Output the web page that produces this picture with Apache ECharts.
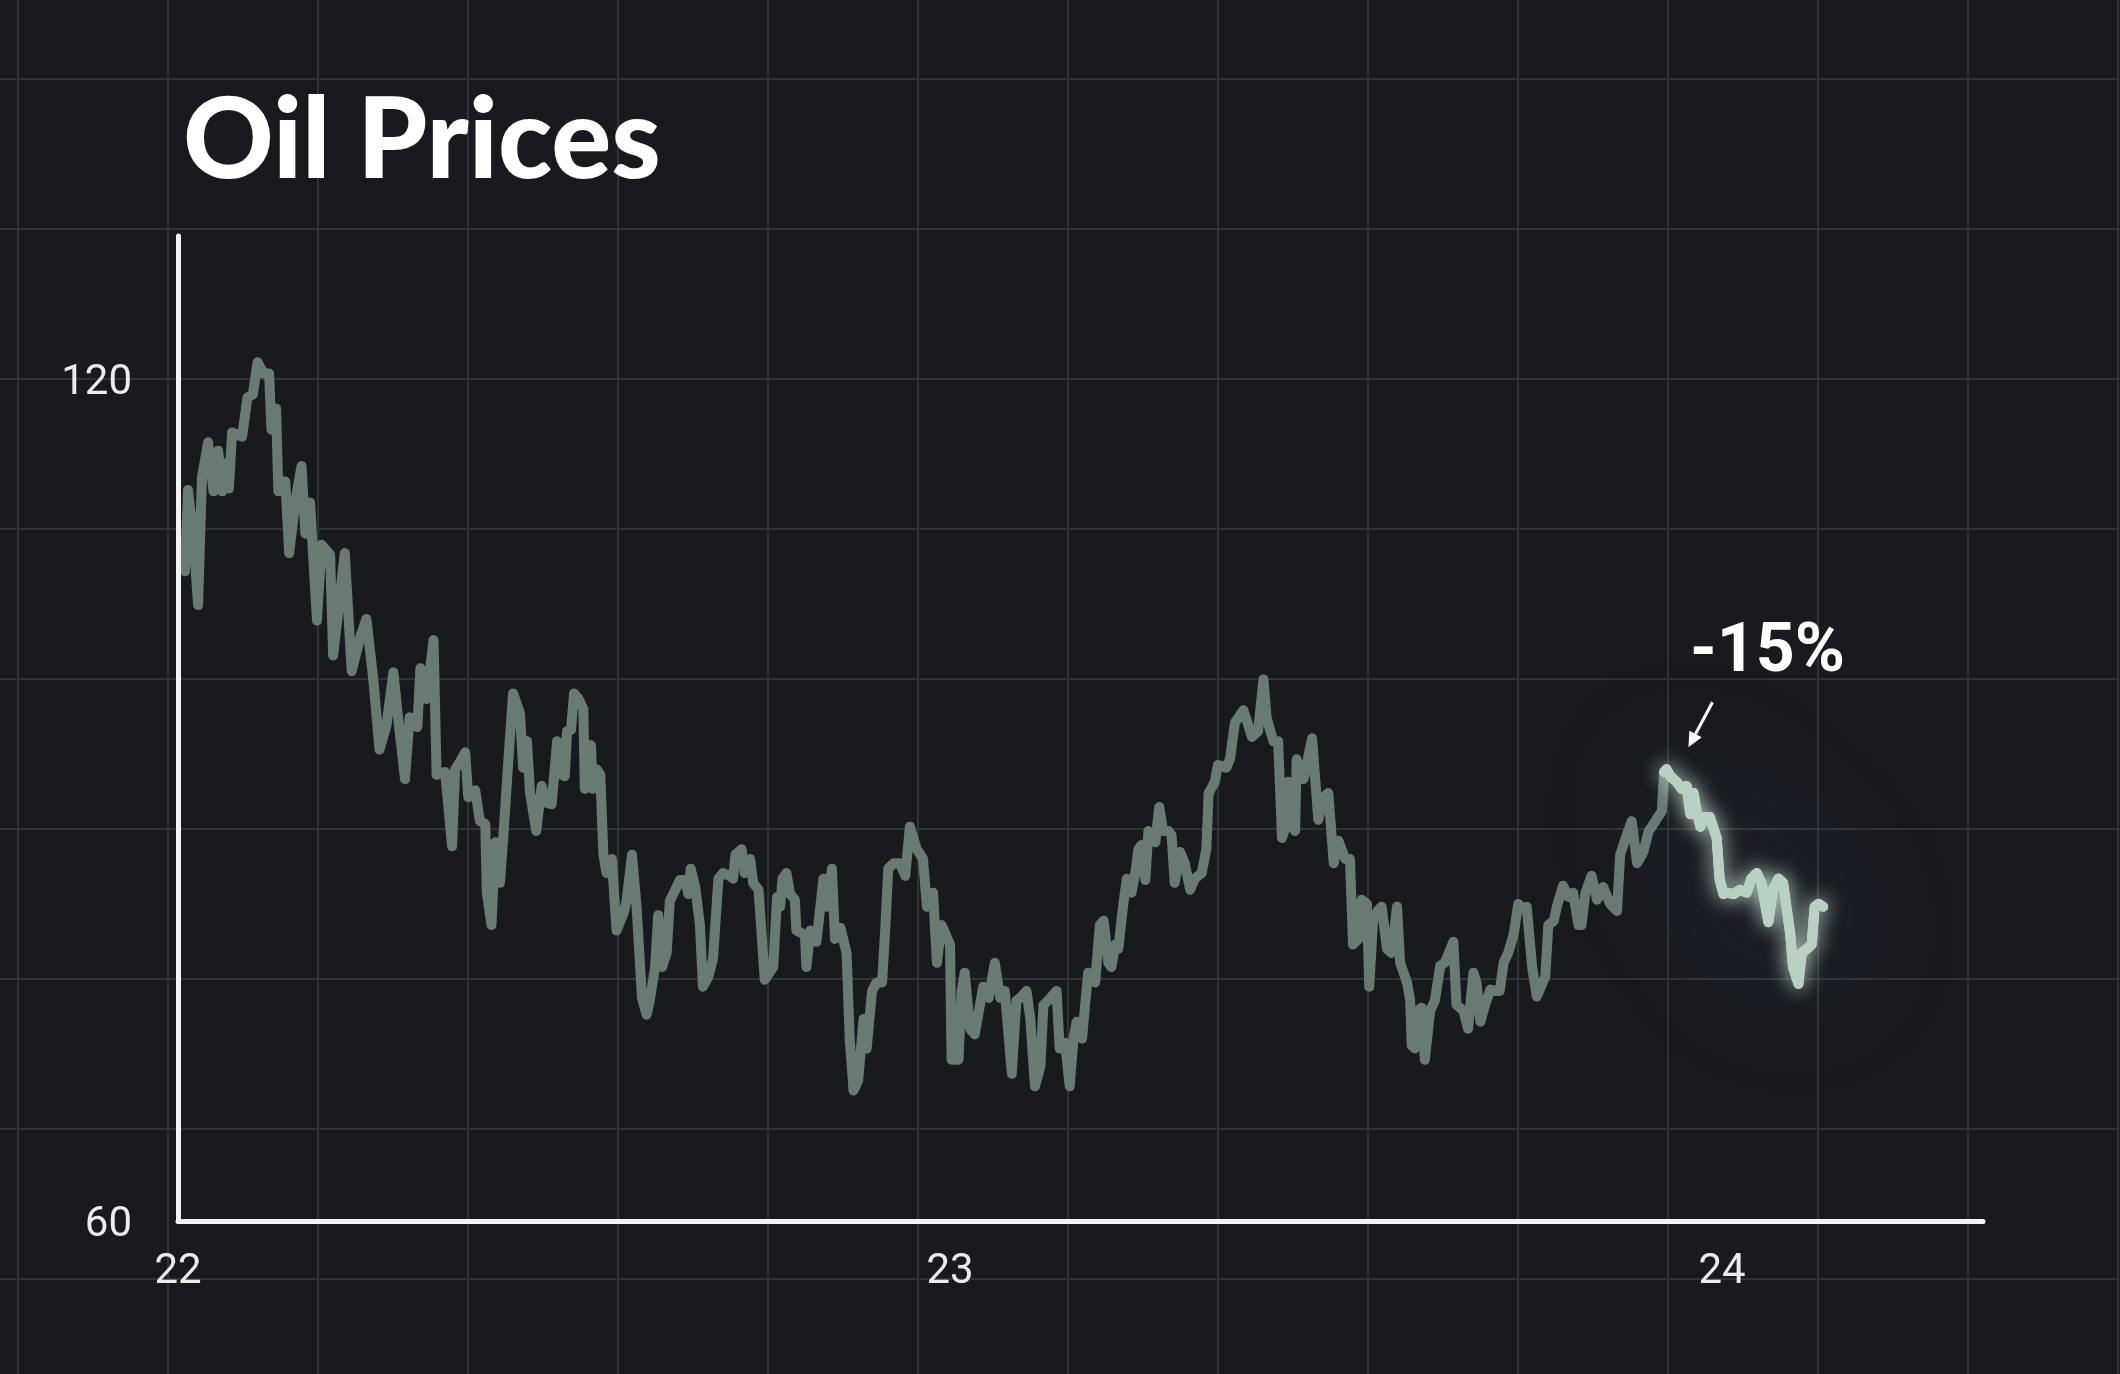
<!DOCTYPE html>
<html><head><meta charset="utf-8">
<script src="https://cdn.jsdelivr.net/npm/echarts@6/dist/echarts.min.js"></script>
<style>html,body{margin:0;padding:0;background:#181a1f;}#chart{width:2120px;height:1374px;}</style>
</head><body><div id="chart"></div>
<script>
// decimal year (22 = start of 2022)
const dates = [
22.006,22.009,22.013,22.020,22.026,22.031,22.039,22.046,22.052,22.057,
22.061,22.066,22.070,22.083,22.090,22.097,22.103,22.111,22.118,22.121,
22.127,22.130,22.139,22.144,22.152,22.160,22.165,22.171,22.180,22.186,
22.197,22.201,22.216,22.225,22.236,22.244,22.253,22.261,22.270,22.279,
22.285,22.294,22.300,22.310,22.314,22.322,22.331,22.335,22.346,22.355,
22.359,22.365,22.372,22.376,22.385,22.391,22.398,22.400,22.406,22.411,
22.417,22.421,22.428,22.434,22.443,22.447,22.452,22.456,22.464,22.471,
22.478,22.484,22.491,22.497,22.501,22.504,22.509,22.513,22.519,22.525,
22.527,22.530,22.535,22.537,22.542,22.547,22.551,22.555,22.562,22.568,
22.577,22.581,22.588,22.594,22.601,22.607,22.611,22.618,22.622,22.627,
22.633,22.637,22.646,22.650,22.657,22.661,22.664,22.670,22.676,22.680,
22.687,22.693,22.700,22.706,22.715,22.719,22.722,22.730,
22.734,22.741,22.745,22.752,22.756,22.760,22.771,22.776,22.780,22.783,
22.788,22.793,22.799,22.801,22.812,22.814,22.819,22.827,22.832,22.836,
22.840,22.847,22.851,22.858,22.866,22.870,22.875,22.881,22.888,22.892,
22.899,22.905,22.912,22.916,22.920,22.927,22.935,22.942,22.948,22.957,
22.965,22.970,22.978,22.983,22.989,23.000,23.002,23.011,23.015,23.019,
23.026,23.032,23.043,23.050,23.058,23.065,23.071,23.080,23.086,
23.093,23.099,23.104,23.110,23.117,23.121,23.127,23.138,23.142,23.149,
23.155,23.160,23.164,23.171,23.175,23.179,23.188,23.194,23.199,23.205,
23.209,23.214,23.218,23.224,23.229,23.235,23.240,23.244,23.248,23.253,
23.257,23.266,23.271,23.276,23.283,23.287,23.291,23.298,23.304,23.311,
23.317,23.326,23.332,23.335,23.343,23.347,23.358,23.363,23.365,23.369,
23.380,23.386,23.391,23.399,23.406,23.410,23.415,23.419,23.425,23.430,
23.434,23.438,23.443,23.447,23.449,
23.458,23.469,23.477,23.484,23.490,23.497,23.503,23.512,23.518,23.522,
23.529,23.533,23.540,23.543,23.548,23.554,23.559,23.566,23.572,23.579,
23.583,23.592,23.596,23.598,23.602,23.607,23.611,23.615,23.622,23.628,
23.635,23.641,23.652,23.656,23.665,23.671,23.678,23.682,23.687,23.693,
23.700,23.706,23.712,23.717,23.723,23.730,23.736,23.741,23.747,23.754,
23.760,23.771,23.775,23.782,23.786,23.794,23.801,23.807,23.814,23.818,
23.823,23.831,23.838,23.846,23.855,23.864,23.868,23.874,23.883,23.890,
23.898,23.905,23.909,23.917,23.922,23.925,23.928,
23.933,23.941,23.948,23.954,23.959,23.963,23.967,23.972,23.978,23.984,
23.993,23.997,24.002,24.006,24.015,24.023,24.032,24.038,24.045,24.051,
24.060,24.066,24.073,24.079,24.088,24.092,24.099,24.103,24.110,24.116,
24.120,24.125,24.131
];
const prices = [
108.0,106.3,112.1,108.7,103.9,113.0,115.5,112.0,114.9,112.0,
114.0,112.2,116.2,115.9,118.7,118.9,121.2,120.4,120.4,116.4,
117.9,112.0,112.7,107.6,111.3,113.8,109.0,111.2,102.8,108.2,
107.5,100.3,107.6,99.2,101.6,102.9,98.6,93.6,95.3,99.1,
95.9,91.5,95.9,95.2,99.4,97.2,101.4,91.8,92.0,86.7,
92.2,92.7,93.4,90.2,90.7,88.5,88.3,83.4,81.1,87.0,
84.1,87.1,92.9,97.6,96.2,92.3,94.2,90.5,87.8,91.0,
89.8,89.7,94.2,91.8,91.7,94.9,95.0,97.6,97.2,96.5,
90.8,93.9,93.9,90.8,92.2,91.8,86.1,84.8,85.8,80.7,
81.9,82.8,86.1,82.4,75.9,74.7,75.7,78.1,81.8,78.1,
79.1,82.8,83.8,84.3,84.3,83.3,85.1,83.8,81.1,76.7,
77.4,78.7,84.4,84.8,84.6,84.4,86.1,86.5,
84.8,85.8,84.1,83.6,80.4,77.2,78.1,83.1,82.4,84.4,
84.8,83.3,82.9,80.7,80.4,78.1,80.7,79.9,82.4,84.4,
82.4,85.1,80.1,80.9,79.1,73.0,69.3,70.0,74.4,72.3,
76.4,77.0,77.0,80.7,85.1,85.5,85.5,84.6,88.1,86.5,
85.8,82.4,83.4,78.4,81.1,79.7,71.5,71.5,76.4,77.7,
73.7,73.3,76.7,75.9,78.4,75.9,76.4,70.5,75.7,
76.0,76.4,74.4,69.6,71.0,75.4,75.7,76.4,72.3,72.7,
69.6,73.0,74.2,73.0,75.4,77.7,77.0,81.1,81.4,78.4,
78.1,79.7,79.4,82.4,84.4,83.4,84.8,86.5,86.8,84.3,
87.8,87.0,89.5,87.8,87.8,87.5,84.1,86.3,85.5,83.6,
84.4,84.8,86.5,90.5,91.3,92.5,92.3,93.0,93.9,95.5,
96.4,95.4,94.5,94.9,98.6,95.9,94.9,94.2,94.2,87.3,
88.0,91.3,88.1,87.8,92.9,
91.5,94.4,88.6,90.2,90.5,85.5,87.1,85.8,85.8,79.7,
80.1,82.9,82.6,76.7,81.4,82.1,82.4,79.4,79.1,82.4,
78.4,77.0,75.7,72.5,72.3,75.0,75.2,71.5,75.0,75.7,
78.2,78.4,79.9,75.4,75.0,73.7,77.7,77.0,74.2,75.4,
76.5,76.4,76.4,78.4,79.1,80.4,82.6,82.3,82.4,78.1,
76.0,77.4,81.1,81.4,82.4,83.9,83.1,83.4,81.1,81.1,
83.4,84.6,82.9,83.8,82.6,82.1,86.1,87.1,88.5,85.5,
86.3,87.8,88.1,88.8,89.2,92.0,92.2,
91.7,91.3,90.8,91.0,89.0,90.5,89.2,88.1,88.8,88.8,
87.3,84.3,83.3,83.4,83.3,83.6,83.4,84.4,84.8,84.1,
81.3,83.6,84.4,84.1,80.6,78.1,76.9,79.1,79.4,79.7,
82.4,82.6,82.4
];
const highlightFrom = 23.925;
const xTicks = [22, 23, 24];
const yTicks = [60, 120];
const xRange = [22, 24.338];
const yRange = [60, 130.2];
const titleText = 'Oil Prices';
const annotationText = '-15%';

const points = dates.map((d, i) => [d, prices[i]]);
const history = points.filter(p => p[0] <= highlightFrom);
const recent = points.filter(p => p[0] >= highlightFrom);

const chart = echarts.init(document.getElementById('chart'), null, {renderer: 'canvas', width: 2120, height: 1374});
const labelStyle = {color: '#ececec', fontFamily: 'Roboto', fontSize: 42};
const bgLine = {color: '#2f3237', width: 2};
const hidden = {axisLine: {show: false}, axisTick: {show: false}, axisLabel: {show: false}};
const option = {
  backgroundColor: '#181a1f',
  animation: false,
  title: {
    text: titleText, left: 183, top: 86, padding: 0,
    textStyle: {color: '#ffffff', fontFamily: 'Lato', fontWeight: 900, fontSize: 112}
  },
  grid: [
    {left: 178, right: 137, top: 236, bottom: 153},
    {left: 18, top: 0, right: 0, bottom: 0},   // background vertical lines
    {left: 0, top: 79, right: 0, bottom: 0}    // background horizontal lines
  ],
  xAxis: [
    {
      type: 'value', gridIndex: 0, min: xRange[0], max: xRange[1], interval: 1, z: 5,
      axisLine: {show: true, onZero: false, lineStyle: {color: '#f4f4f4', width: 5, cap: 'round'}},
      axisTick: {show: false}, splitLine: {show: false},
      axisLabel: Object.assign({margin: 30, showMaxLabel: false,
        formatter: v => xTicks.includes(v) ? String(v) : ''}, labelStyle)
    },
    Object.assign({type: 'value', gridIndex: 1, min: 0, max: 2102, interval: 150, z: 0,
      splitLine: {show: true, showMaxLine: false, lineStyle: bgLine}}, hidden),
    Object.assign({type: 'value', gridIndex: 2, min: 0, max: 2120, z: 0,
      splitLine: {show: false}}, hidden)
  ],
  yAxis: [
    {
      type: 'value', gridIndex: 0, min: yRange[0], max: yRange[1], interval: 60, z: 5,
      axisLine: {show: true, onZero: false, lineStyle: {color: '#f4f4f4', width: 5, cap: 'round'}},
      axisTick: {show: false}, splitLine: {show: false},
      axisLabel: Object.assign({margin: 46, showMaxLabel: false,
        formatter: v => yTicks.includes(v) ? '{v|' + v + '}' : '',
        rich: {v: {color: '#ececec', fontFamily: 'Roboto', fontSize: 42, padding: [9, 0, 0, 0]}}}, labelStyle)
    },
    Object.assign({type: 'value', gridIndex: 1, min: 0, max: 1374, z: 0,
      splitLine: {show: false}}, hidden),
    Object.assign({type: 'value', gridIndex: 2, min: 0, max: 1295, interval: 150, inverse: true, z: 0,
      splitLine: {show: true, showMaxLine: false, lineStyle: bgLine}}, hidden)
  ],
  series: [
    {
      type: 'line', xAxisIndex: 0, yAxisIndex: 0, data: history, symbol: 'none', silent: true, z: 3,
      lineStyle: {color: '#687a72', width: 10, join: 'round', cap: 'round'}
    },
    {
      type: 'line', xAxisIndex: 0, yAxisIndex: 0, data: recent, symbol: 'none', silent: true, z: 3,
      lineStyle: {color: '#b4ccbe', width: 10, join: 'round', cap: 'round', shadowBlur: 150, shadowColor: 'rgba(120,140,200,0.45)'}
    },
    {
      type: 'line', xAxisIndex: 0, yAxisIndex: 0, data: recent, symbol: 'none', silent: true, z: 4,
      lineStyle: {color: '#b8d1c2', width: 10, join: 'round', cap: 'round', shadowBlur: 20, shadowColor: 'rgba(230,255,240,0.85)'}
    }
  ]
};
chart.setOption(option);

// annotation anchored at the peak of the highlighted stretch
let peakIdx = 0;
recent.forEach((p, i) => { if (p[1] > recent[peakIdx][1]) peakIdx = i; });
const [px, py] = chart.convertToPixel({xAxisIndex: 0, yAxisIndex: 0}, recent[peakIdx]);
const tip = [px + 22, py - 22];
const tail = [px + 46, py - 67];
const dx = tip[0] - tail[0], dy = tip[1] - tail[1];
const len = Math.hypot(dx, dy);
const ux = dx / len, uy = dy / len;
const headL = 15, headW = 7;
const base = [tip[0] - ux * headL, tip[1] - uy * headL];
const left = [base[0] - uy * headW, base[1] + ux * headW];
const right = [base[0] + uy * headW, base[1] - ux * headW];
chart.setOption({
  graphic: [
    {type: 'line', z: 10, shape: {x1: tail[0], y1: tail[1], x2: base[0], y2: base[1]}, style: {stroke: '#ffffff', lineWidth: 3}},
    {type: 'polygon', z: 10, shape: {points: [tip, left, right]}, style: {fill: '#ffffff'}},
    {type: 'text', z: 10, x: px + 101, y: py - 115,
     style: {text: annotationText, fill: '#ffffff', font: 'bold 68px Roboto', align: 'center', verticalAlign: 'middle'}}
  ]
});
</script>
</body></html>
